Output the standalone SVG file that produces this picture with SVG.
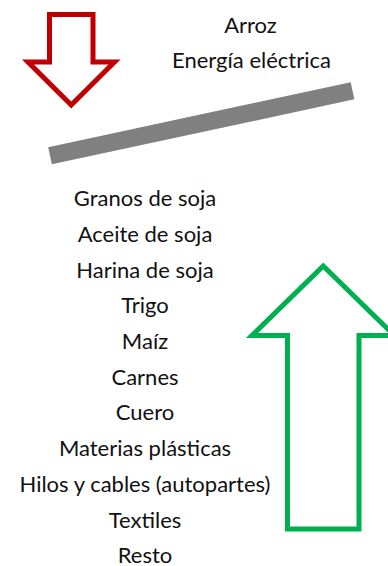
<svg xmlns="http://www.w3.org/2000/svg" width="388" height="566" viewBox="0 0 388 566">
<style>
text{font-family:"Lato","Liberation Sans",sans-serif;font-size:22px;fill:#111;text-anchor:middle}
.arrow{fill:#fff;stroke-width:5;stroke-linejoin:miter;stroke-miterlimit:10}
</style>
<rect width="388" height="566" fill="#fff"/>
<g id="red-arrow"><polygon class="arrow" stroke="#C00000" points="49.5,14.5 93,14.5 93,62 114.5,62 71.25,105 28,62 49.5,62"/></g>
<g id="green-arrow"><polygon class="arrow" stroke="#00B050" points="323.25,266 394.5,335.5 359,335.5 359,529 287.5,529 287.5,335.5 252,335.5"/></g>
<g id="bar"><line x1="50" y1="155.8" x2="352.5" y2="90.8" stroke="#808080" stroke-width="17.5"/></g>
<g id="top-labels">
<text x="250.5" y="33">Arroz</text>
<text x="251.5" y="68">Energía eléctrica</text>
</g>
<g id="list">
<text x="145" y="206">Granos de soja</text>
<text x="145" y="241.7">Aceite de soja</text>
<text x="145" y="277.5">Harina de soja</text>
<text x="145" y="313.2">Trigo</text>
<text x="145" y="348.9">Maíz</text>
<text x="145" y="384.7">Carnes</text>
<text x="145" y="420.4">Cuero</text>
<text x="145" y="456.1">Materias plásticas</text>
<text x="145" y="491.8">Hilos y cables (autopartes)</text>
<text x="145" y="527.6">Textiles</text>
<text x="145" y="563.3">Resto</text>
</g>
</svg>
